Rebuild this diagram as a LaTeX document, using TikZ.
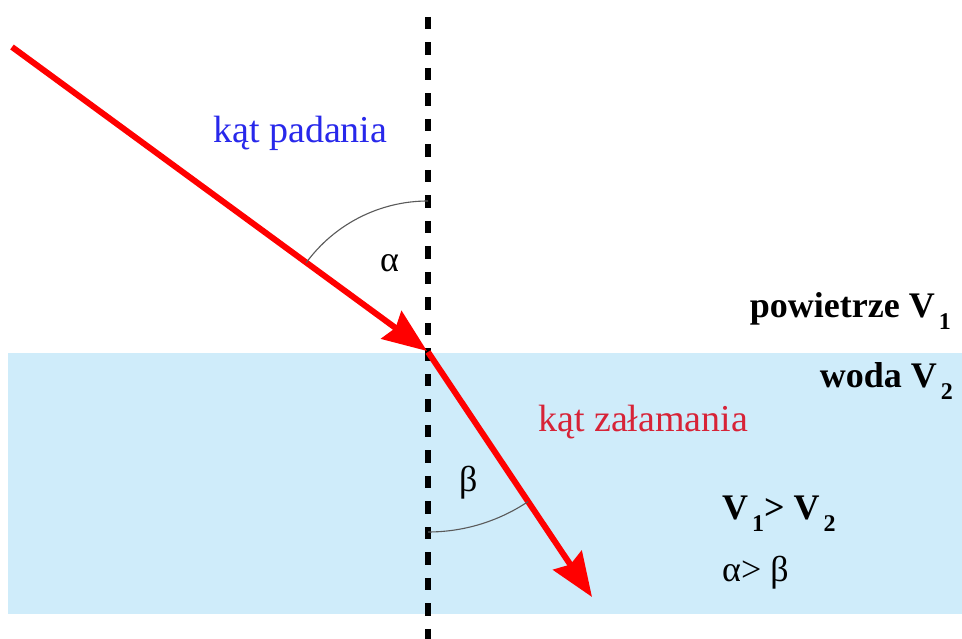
\documentclass[tikz,border=0pt]{standalone}
\usepackage{fontspec}
\setmainfont{Liberation Serif}
\usetikzlibrary{arrows.meta}
\definecolor{water}{RGB}{207,236,250}
\definecolor{rayred}{RGB}{255,0,0}
\definecolor{lblblue}{RGB}{40,40,235}
\definecolor{lblred}{RGB}{215,35,55}
\definecolor{arcgray}{RGB}{90,90,90}
\tikzset{
  ray/.style={draw=rayred, line width=6pt, -{Stealth[length=44pt,width=34pt,inset=5pt]}},
  normalline/.style={draw=black, line width=6.5pt, dash pattern=on 12.5pt off 13pt},
  anglearc/.style={draw=arcgray, line width=1.1pt},
  bigtxt/.style={inner sep=0pt, font=\fontsize{38}{42}\selectfont},
  medtxt/.style={inner sep=0pt, font=\fontsize{36}{40}\selectfont},
  boldtxt/.style={inner sep=0pt, font=\fontsize{36}{40}\selectfont\bfseries},
}
\newcommand{\mysub}[1]{\hspace{4pt}\raisebox{-12pt}{\fontsize{24}{24}\selectfont #1}}
\begin{document}
\begin{tikzpicture}[x=1pt,y=1pt]
\useasboundingbox (0,0) rectangle (962,639);
\fill[white] (0,0) rectangle (962,639);
% water
\fill[water] (8,25) rectangle (962,286);
% normal
\coordinate (ntop) at (428,622);
\coordinate (nbot) at (428,0);
\coordinate (hit) at (428,287);
\draw[normalline] (ntop) -- (nbot);
% rays
\coordinate (src) at (12,592);
\coordinate (tip) at (592,42);
\draw[ray] (src) -- (427,288);
\draw[ray] (hit) -- (tip);
% arcs
\draw[anglearc] (hit) ++(90:151) arc[start angle=90, end angle=143.8, radius=151];
\draw[anglearc] (hit) ++(270:180) arc[start angle=270, end angle=303.8, radius=180];
% labels
\node[bigtxt, text=lblblue, anchor=base west] (padania) at (213,496) {kąt padania};
\node[bigtxt, text=lblred, anchor=base west] (zalamania) at (538,207) {kąt załamania};
\node[medtxt, anchor=base west] (alpha) at (380,367) {α};
\node[medtxt, anchor=base west] (beta) at (459,147) {β};
\node[boldtxt, anchor=base east] (air) at (951,321) {powietrze V\mysub{1}};
\node[boldtxt, anchor=base east] (water) at (953,251) {woda V\mysub{2}};
\node[boldtxt, anchor=base west] (vrel) at (722,119) {V\mysub{1}> V\mysub{2}};
\node[medtxt, anchor=base west] (arel) at (722,57) {α> β};
\end{tikzpicture}
\end{document}
